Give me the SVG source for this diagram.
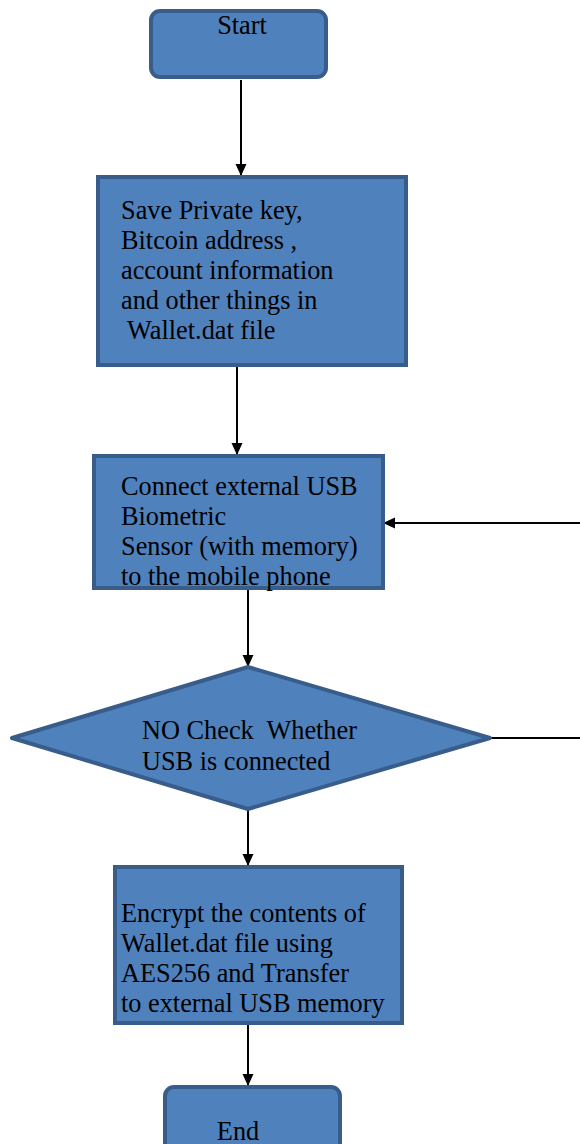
<svg xmlns="http://www.w3.org/2000/svg" width="580" height="1144" viewBox="0 0 580 1144">
<defs>
<style>
.n{fill:#4f81bd;stroke:#385d8a;stroke-width:4}
.t{font-family:"Liberation Serif","Times New Roman",serif;font-size:26.3px;fill:#000;white-space:pre}
.c{stroke:#000;stroke-width:2;fill:none}
</style>
<marker id="ah" markerWidth="12" markerHeight="12" refX="11" refY="6" orient="auto" markerUnits="userSpaceOnUse">
<path d="M0,0.5 L12,6 L0,11.5 Z" fill="#000"/>
</marker>
</defs>
<rect width="580" height="1144" fill="#fff"/>
<g id="connectors">
<line class="c" x1="241" y1="80" x2="241" y2="175" marker-end="url(#ah)"/>
<line class="c" x1="237" y1="367" x2="237" y2="454" marker-end="url(#ah)"/>
<line class="c" x1="580" y1="523" x2="384" y2="523" marker-end="url(#ah)"/>
<line class="c" x1="248" y1="590" x2="248" y2="666" marker-end="url(#ah)"/>
<line class="c" x1="490" y1="738" x2="580" y2="738"/>
<line class="c" x1="248" y1="810" x2="248" y2="865" marker-end="url(#ah)"/>
<line class="c" x1="248" y1="1025" x2="248" y2="1085" marker-end="url(#ah)"/>
</g>
<g id="start">
<rect class="n" x="151" y="11" width="175" height="66" rx="9"/>
<text class="t" x="242" y="34" text-anchor="middle">Start</text>
</g>
<g id="save">
<rect class="n" x="98" y="177" width="308" height="188"/>
<text class="t" x="121" y="219">Save Private key,</text>
<text class="t" x="121" y="249">Bitcoin address ,</text>
<text class="t" x="121" y="279">account information</text>
<text class="t" x="121" y="309">and other things in</text>
<text class="t" x="121" y="339"> Wallet.dat file</text>
</g>
<g id="connect">
<rect class="n" x="94" y="456" width="289" height="132"/>
<text class="t" x="121" y="495">Connect external USB</text>
<text class="t" x="121" y="525">Biometric</text>
<text class="t" x="121" y="555">Sensor (with memory)</text>
<text class="t" x="121" y="585">to the mobile phone</text>
</g>
<g id="check">
<polygon class="n" points="248,667 490,738 248,809 12,738" stroke-linejoin="round"/>
<text class="t" x="142" y="739">NO Check  Whether</text>
<text class="t" x="142" y="770">USB is connected</text>
</g>
<g id="encrypt">
<rect class="n" x="115" y="867" width="287" height="156"/>
<text class="t" x="121" y="922">Encrypt the contents of</text>
<text class="t" x="121" y="952">Wallet.dat file using</text>
<text class="t" x="121" y="982">AES256 and Transfer</text>
<text class="t" x="121" y="1012">to external USB memory</text>
</g>
<g id="end">
<rect class="n" x="165" y="1087" width="175" height="66" rx="9"/>
<text class="t" x="238" y="1140" text-anchor="middle">End</text>
</g>
</svg>
